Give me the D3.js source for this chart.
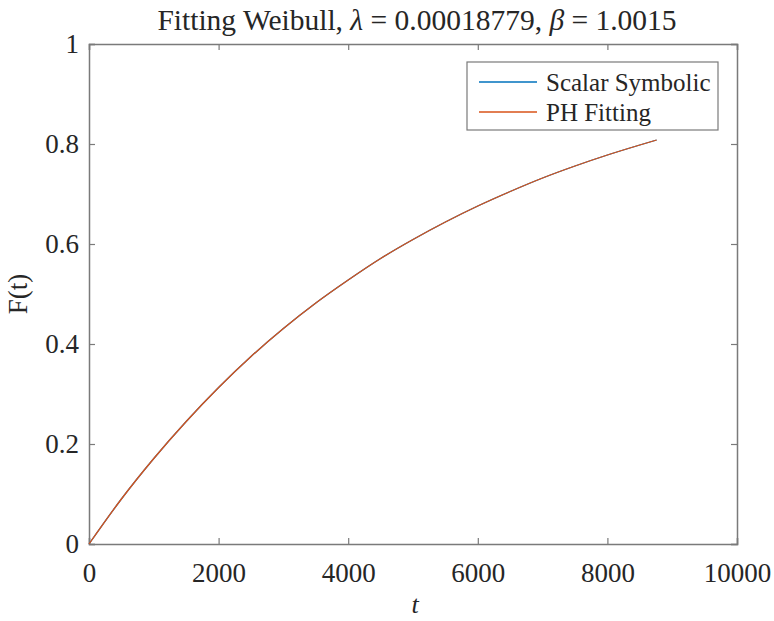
<!DOCTYPE html>
<html>
<head>
<meta charset="utf-8">
<script src="https://cdn.jsdelivr.net/npm/d3@7"></script>
<style>
  body { margin: 0; background: #fff; }
  text { font-family: "Liberation Serif", "Times New Roman", serif; fill: #262626; }
</style>
</head>
<body>
<div id="chart"></div>
<script>
// values (t in hours, F(t))
var tValues = [0, 500, 1000, 1500, 2000, 2500, 3000, 3500, 4000, 4500, 5000, 5500, 6000, 6500, 7000, 7500, 8000, 8500, 8760];
var symbolic = [0, 0.090, 0.171, 0.245, 0.313, 0.375, 0.431, 0.482, 0.528, 0.571, 0.609, 0.644, 0.676, 0.705, 0.732, 0.756, 0.778, 0.798, 0.808];
var phFit    = [0, 0.090, 0.171, 0.245, 0.313, 0.375, 0.431, 0.482, 0.528, 0.571, 0.609, 0.644, 0.676, 0.705, 0.732, 0.756, 0.778, 0.798, 0.808];
var seriesNames = ["Scalar Symbolic", "PH Fitting"];
var seriesColors = ["#0072bd", "#d95319"];
var xTicks = [0, 2000, 4000, 6000, 8000, 10000];
var yTicks = [0, 0.2, 0.4, 0.6, 0.8, 1];

////////////////////////////////////////////////////////////
//////////////////////// Set-Up ////////////////////////////
////////////////////////////////////////////////////////////
var W = 774, H = 621;
var margin = {left: 89, top: 44, right: 37, bottom: 77},
    width = W - margin.left - margin.right,
    height = H - margin.top - margin.bottom;

var x = d3.scaleLinear().domain([0, 10000]).range([0, width]);
var y = d3.scaleLinear().domain([0, 1]).range([height, 0]);

var svg = d3.select("#chart").append("svg")
    .attr("width", W)
    .attr("height", H);

var g = svg.append("g")
    .attr("transform", "translate(" + margin.left + "," + margin.top + ")");

var axisColor = "#7a7a7a",
    tickLen = 6;

// axes (MATLAB style: inward ticks, box on)
var xAxis = g.append("g")
    .attr("transform", "translate(0," + height + ")")
    .call(d3.axisBottom(x).tickValues(xTicks).tickSize(-tickLen).tickPadding(19).tickFormat(d3.format("d")));
var xAxisTop = g.append("g")
    .call(d3.axisTop(x).tickValues(xTicks).tickSize(-tickLen).tickFormat(""));
var yAxis = g.append("g")
    .call(d3.axisLeft(y).tickValues(yTicks).tickSize(-tickLen).tickPadding(10).tickFormat(function(d) { return d === 0 || d === 1 ? d : d3.format(".1f")(d); }));
var yAxisRight = g.append("g")
    .attr("transform", "translate(" + width + ",0)")
    .call(d3.axisRight(y).tickValues(yTicks).tickSize(-tickLen).tickFormat(""));

[xAxis, xAxisTop, yAxis, yAxisRight].forEach(function(a) {
  a.select(".domain").attr("stroke", axisColor).attr("stroke-width", 1.5);
  a.selectAll(".tick line").attr("stroke", axisColor).attr("stroke-width", 1.2);
  a.selectAll(".tick text")
    .style("font-family", "'Liberation Serif', serif")
    .style("font-size", "27px")
    .attr("fill", "#262626");
});
xAxis.selectAll(".tick text").attr("dy", "0.71em");

////////////////////////////////////////////////////////////
////////////////////// Lines ///////////////////////////////
////////////////////////////////////////////////////////////
var line = d3.line()
    .x(function(d) { return x(d[0]); })
    .y(function(d) { return y(d[1]); })
    .curve(d3.curveMonotoneX);

[symbolic, phFit].forEach(function(s, i) {
  g.append("path")
    .datum(tValues.map(function(t, j) { return [t, s[j]]; }))
    .attr("fill", "none")
    .attr("stroke", seriesColors[i])
    .attr("stroke-width", 1.3)
    .attr("d", line);
});

////////////////////////////////////////////////////////////
////////////////////// Legend //////////////////////////////
////////////////////////////////////////////////////////////
var legend = g.append("g")
    .attr("transform", "translate(" + (467 - margin.left) + "," + (62 - margin.top) + ")");
legend.append("rect")
    .attr("width", 251).attr("height", 68)
    .attr("fill", "#fff")
    .attr("stroke", axisColor)
    .attr("stroke-width", 1.2);
seriesNames.forEach(function(name, i) {
  var cy = 20 + i * 30;
  legend.append("line")
    .attr("x1", 12).attr("x2", 70)
    .attr("y1", cy).attr("y2", cy)
    .attr("stroke", seriesColors[i]).attr("stroke-width", 1.3);
  legend.append("text")
    .attr("x", 79).attr("y", cy)
    .attr("dy", "0.35em")
    .style("font-size", "25px")
    .text(name);
});

////////////////////////////////////////////////////////////
////////////////////// Labels //////////////////////////////
////////////////////////////////////////////////////////////
var title = svg.append("text")
    .attr("x", margin.left + width / 2 + 4)
    .attr("y", 30)
    .attr("text-anchor", "middle")
    .style("font-size", "29.5px");
title.append("tspan").text("Fitting Weibull, ");
title.append("tspan").style("font-style", "italic").text("λ");
title.append("tspan").text(" = 0.00018779, ");
title.append("tspan").style("font-style", "italic").text("β");
title.append("tspan").text(" = 1.0015");

svg.append("text")
    .attr("x", margin.left + width / 2 + 2)
    .attr("y", 613)
    .attr("text-anchor", "middle")
    .style("font-size", "26px")
    .style("font-style", "italic")
    .text("t");

svg.append("text")
    .attr("transform", "translate(27," + (margin.top + height / 2) + ") rotate(-90)")
    .attr("text-anchor", "middle")
    .style("font-size", "27px")
    .text("F(t)");
</script>
</body>
</html>
